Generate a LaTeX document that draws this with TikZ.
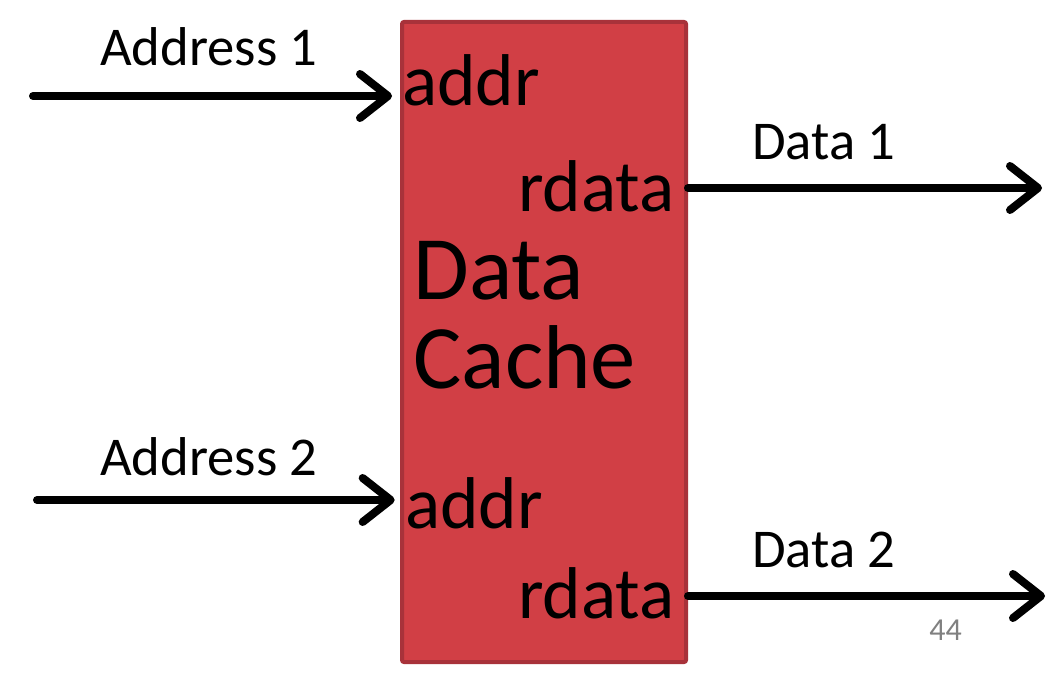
\documentclass[tikz,border=0pt]{standalone}
\usepackage{fontspec}
\setmainfont{Carlito}
\usetikzlibrary{arrows.meta}
\definecolor{cachered}{HTML}{D13F45}
\definecolor{cacheedge}{HTML}{A8323A}
\tikzset{
	cachebox/.style={draw=cacheedge, fill=cachered, line width=3pt, rounded corners=1.5pt,
		minimum width=213pt, minimum height=480pt, inner sep=0pt},
	wire/.style={line width=6pt, line cap=round,
		-{Straight Barb[length=21pt, width=33pt, line cap=round, line join=round]}},
	sig/.style={anchor=base west, inner sep=0pt, font=\fontsize{41}{45}\selectfont},
	port/.style={anchor=base west, inner sep=0pt, font=\fontsize{55}{60}\selectfont},
	big/.style={anchor=base west, inner sep=0pt, font=\fontsize{68}{72}\selectfont}
}
\begin{document}
\begin{tikzpicture}[x=0.75pt, y=-0.75pt]
		\useasboundingbox (0,0) rectangle (1064,677);
		% the cache block
		\node[cachebox, anchor=north west] (cache) at (400,20) {};
		% free ends of the wires
		\coordinate (in1) at (33,96);
		\coordinate (in2) at (37,500);
		\coordinate (out1) at (1042,188);
		\coordinate (out2) at (1045,596);
		\draw[wire, shorten >=6pt] (in1) -- (in1 -| cache.west);
		\draw[wire, shorten >=4pt] (in2) -- (in2 -| cache.west);
		\draw[wire] (out1 -| cache.east) -- (out1);
		\draw[wire] (out2 -| cache.east) -- (out2);
		
		\node[sig] (address1) at (100,66) {Address 1};
		\node[sig] (address2) at (100,475) {Address 2};
		\node[sig] (data1) at (752,160) {Data 1};
		\node[sig] (data2) at (752,567) {Data 2};
		
		\node[port] (addrA) at (402,106) {addr};
		\node[port] (rdataA) at (518,212) {rdata};
		\node[port] (addrB) at (405,528) {addr};
		\node[port] (rdataB) at (518,618) {rdata};
		\node[big] (title1) at (413,300) {Data};
		\node[big] (title2) at (413,388) {Cache};
		
		\node[anchor=base west, inner sep=0pt, text=gray, font=\fontsize{24}{26}\selectfont] (page) at (929,640) {44};
\end{tikzpicture}
\end{document}
